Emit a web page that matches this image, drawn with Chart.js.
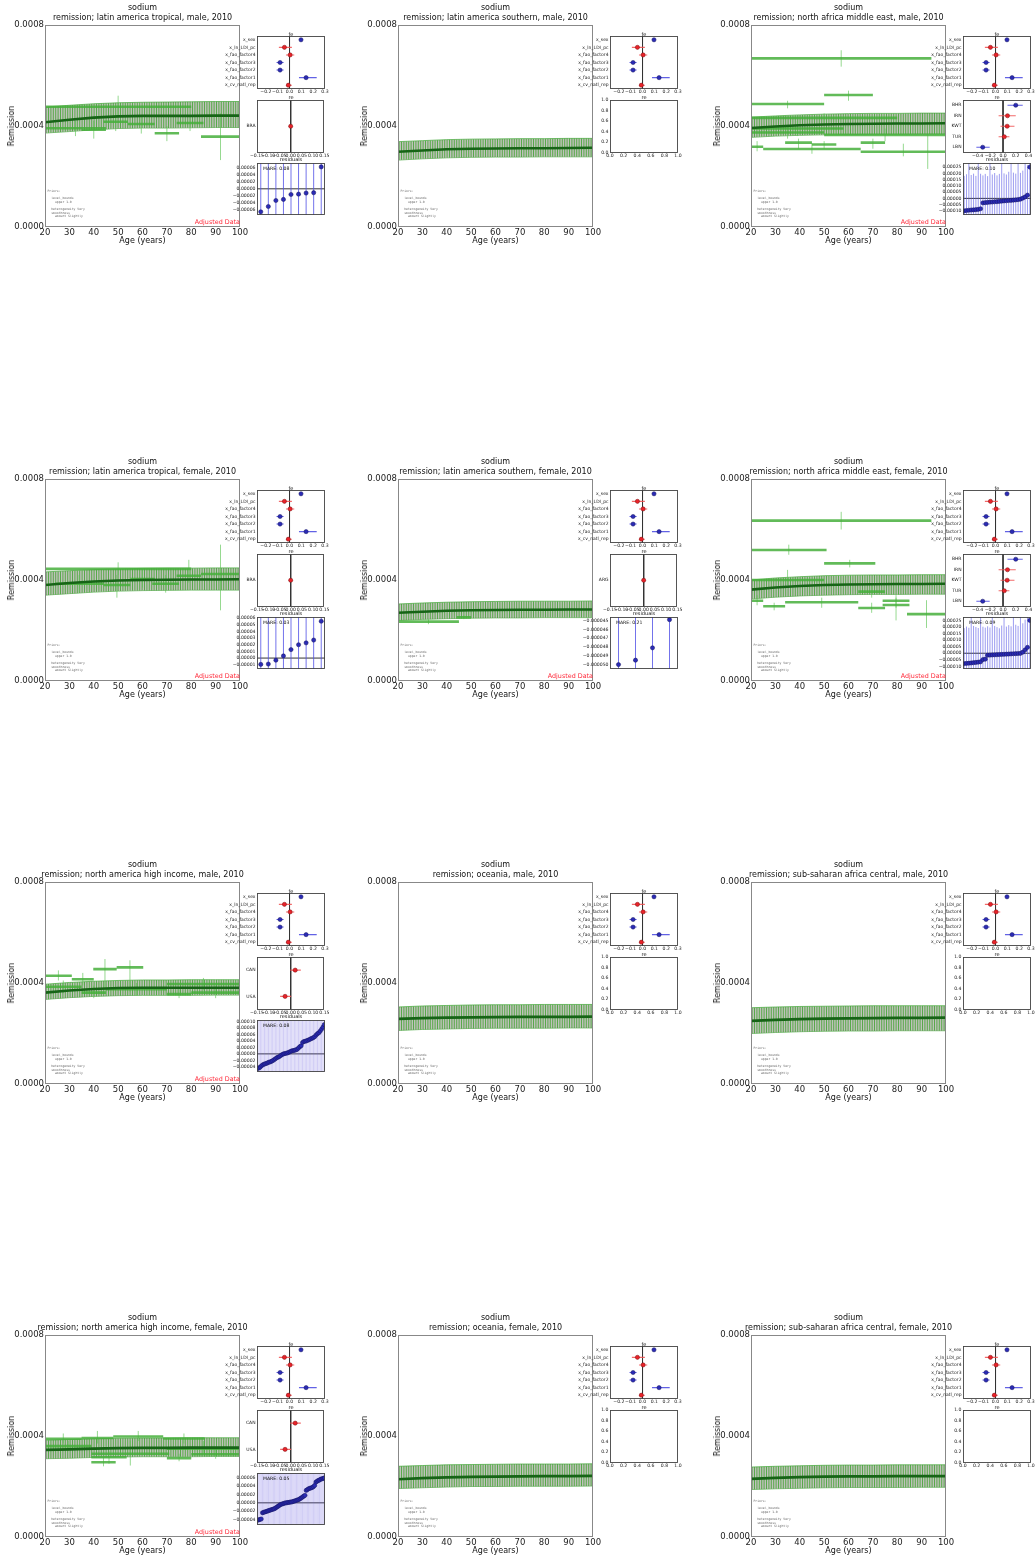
<!DOCTYPE html>
<html>
<head>
<meta charset="utf-8">
<title>sodium remission, 2010</title>
<script src="https://cdn.jsdelivr.net/npm/chart.js@4.4.0/dist/chart.umd.min.js"></script>
<style>
  body { margin: 0; background: #fff; }
  #fig { position: relative; width: 1035px; height: 1562px; overflow: hidden; background: #fff; }
  #fig canvas { position: absolute; }
  .t { position: absolute; white-space: nowrap; font-family: 'DejaVu Sans', sans-serif; color: #111; line-height: 1; }
  .priors { position: absolute; white-space: pre; font-family: 'DejaVu Sans Mono', monospace; font-size: 3.1px; color: #666; line-height: 3.6px; }
</style>
</head>
<body>
<div id="fig"></div>
<script>
// model curves are given at these ages
const ages = [20, 30, 40, 50, 60, 70, 80, 90, 100];
const ageTicks = [20, 30, 40, 50, 60, 70, 80, 90, 100];
const remTicks = [0, 0.0004, 0.0008];

// fixed effects (same in every region)
const feNames = ['x_sex', 'x_ln_LDI_pc', 'x_fao_factor4', 'x_fao_factor3', 'x_fao_factor2', 'x_fao_factor1', 'x_cv_natl_rep'];
const feMean = [0.097, -0.043, 0.005, -0.08, -0.08, 0.14, -0.01];
const feLo = [0.097, -0.09, -0.03, -0.11, -0.11, 0.08, -0.03];
const feHi = [0.097, 0.02, 0.04, -0.05, -0.05, 0.23, 0.02];
const feTicks = [-0.2, -0.1, 0, 0.1, 0.2, 0.3];

// random effects
const reBraNames = ['BRA'];
const reArgNames = ['ARG'];
const reZero = [0];
const reSmallTicks = [-0.15, -0.1, -0.05, 0, 0.05, 0.1, 0.15];
const reNameNames = ['BHR', 'IRN', 'KWT', 'TUR', 'LBN'];
const reNameMean = [0.2, 0.07, 0.065, 0.02, -0.32];
const reNameLo = [0.07, -0.07, -0.04, -0.07, -0.42];
const reNameHi = [0.31, 0.2, 0.18, 0.1, -0.21];
const reNameTicks = [-0.4, -0.2, 0, 0.2, 0.4];
const reNamNames = ['CAN', 'USA'];
const reNamMean = [0.02, -0.025];
const reNamLo = [-0.002, -0.047];
const reNamHi = [0.045, 0.002];
const unitTicks = [0, 0.2, 0.4, 0.6, 0.8, 1];

// posterior mean and bounds, one value per entry of ages
const latTropMaleMean = [0.000415, 0.000425, 0.000433, 0.000438, 0.00044, 0.00044, 0.00044, 0.000441, 0.000441];
const latTropMaleLow = [0.000372, 0.000378, 0.000385, 0.00039, 0.000392, 0.000392, 0.000393, 0.000394, 0.000394];
const latTropMaleHigh = [0.000475, 0.000482, 0.000488, 0.000492, 0.000494, 0.000495, 0.000496, 0.000497, 0.000497];
const latSouthMaleMean = [0.000298, 0.000303, 0.000308, 0.00031, 0.000311, 0.000312, 0.000312, 0.000313, 0.000314];
const latSouthMaleLow = [0.000265, 0.00027, 0.000274, 0.000276, 0.000277, 0.000277, 0.000278, 0.000278, 0.000278];
const latSouthMaleHigh = [0.000338, 0.000342, 0.000346, 0.000348, 0.000349, 0.00035, 0.00035, 0.000351, 0.000351];
const nameMaleMean = [0.000392, 0.000398, 0.000403, 0.000406, 0.000408, 0.000409, 0.00041, 0.00041, 0.000411];
const nameMaleLow = [0.000355, 0.00036, 0.000363, 0.000365, 0.000366, 0.000367, 0.000367, 0.000368, 0.000368];
const nameMaleHigh = [0.000435, 0.00044, 0.000444, 0.000447, 0.000449, 0.00045, 0.00045, 0.000451, 0.000451];
const latTropFemaleMean = [0.00038, 0.000388, 0.000394, 0.000398, 0.0004, 0.000401, 0.000402, 0.000402, 0.000403];
const latTropFemaleLow = [0.00034, 0.000346, 0.000352, 0.000356, 0.000358, 0.000359, 0.00036, 0.00036, 0.00036];
const latTropFemaleHigh = [0.000432, 0.000437, 0.000441, 0.000444, 0.000446, 0.000447, 0.000447, 0.000448, 0.000448];
const latSouthFemaleMean = [0.00027, 0.000274, 0.000278, 0.00028, 0.000281, 0.000282, 0.000282, 0.000283, 0.000283];
const latSouthFemaleLow = [0.00024, 0.000244, 0.000247, 0.000249, 0.00025, 0.00025, 0.000251, 0.000251, 0.000251];
const latSouthFemaleHigh = [0.000305, 0.000309, 0.000312, 0.000314, 0.000315, 0.000316, 0.000316, 0.000316, 0.000317];
const nameFemaleMean = [0.000362, 0.00037, 0.000376, 0.00038, 0.000382, 0.000383, 0.000384, 0.000384, 0.000385];
const nameFemaleLow = [0.000325, 0.000332, 0.000337, 0.00034, 0.000342, 0.000343, 0.000343, 0.000344, 0.000344];
const nameFemaleHigh = [0.0004, 0.000408, 0.000413, 0.000417, 0.000419, 0.00042, 0.00042, 0.000421, 0.000421];
const namMaleMean = [0.000362, 0.00037, 0.000376, 0.00038, 0.000381, 0.000381, 0.000381, 0.000381, 0.000381];
const namMaleLow = [0.000335, 0.000342, 0.000347, 0.00035, 0.000351, 0.000351, 0.000351, 0.000352, 0.000352];
const namMaleHigh = [0.000395, 0.000402, 0.000407, 0.00041, 0.000412, 0.000412, 0.000413, 0.000413, 0.000413];
const oceMaleMean = [0.000258, 0.000261, 0.000263, 0.000264, 0.000265, 0.000266, 0.000266, 0.000266, 0.000267];
const oceMaleLow = [0.000212, 0.000216, 0.000218, 0.00022, 0.000221, 0.000221, 0.000221, 0.000222, 0.000222];
const oceMaleHigh = [0.000305, 0.000309, 0.000311, 0.000313, 0.000314, 0.000314, 0.000315, 0.000315, 0.000315];
const ssaMaleMean = [0.00025, 0.000254, 0.000257, 0.000259, 0.00026, 0.000261, 0.000262, 0.000262, 0.000263];
const ssaMaleLow = [0.0002, 0.000204, 0.000207, 0.000209, 0.00021, 0.00021, 0.000211, 0.000211, 0.000211];
const ssaMaleHigh = [0.000302, 0.000305, 0.000307, 0.000308, 0.000309, 0.00031, 0.00031, 0.00031, 0.00031];
const namFemaleMean = [0.000345, 0.000347, 0.00035, 0.000352, 0.000353, 0.000353, 0.000354, 0.000354, 0.000354];
const namFemaleLow = [0.00031, 0.000312, 0.000315, 0.000317, 0.000318, 0.000318, 0.000318, 0.000319, 0.000319];
const namFemaleHigh = [0.000383, 0.000386, 0.000389, 0.000391, 0.000392, 0.000392, 0.000393, 0.000393, 0.000393];
const oceFemaleMean = [0.000229, 0.000233, 0.000236, 0.000238, 0.000239, 0.00024, 0.000241, 0.000241, 0.000242];
const oceFemaleLow = [0.000192, 0.000195, 0.000198, 0.0002, 0.0002, 0.000201, 0.000201, 0.000201, 0.000202];
const oceFemaleHigh = [0.00028, 0.000283, 0.000286, 0.000287, 0.000288, 0.000289, 0.000289, 0.000289, 0.00029];
const ssaFemaleMean = [0.00023, 0.000234, 0.000237, 0.000239, 0.00024, 0.00024, 0.000241, 0.000241, 0.000241];
const ssaFemaleLow = [0.000188, 0.000191, 0.000193, 0.000195, 0.000196, 0.000196, 0.000196, 0.000197, 0.000197];
const ssaFemaleHigh = [0.000277, 0.00028, 0.000282, 0.000284, 0.000285, 0.000285, 0.000286, 0.000286, 0.000286];

// uncertainty at age 20: [low, high]
const latTropMaleEdge = [0.00038, 0.00065];
const latSouthMaleEdge = [0.00027, 0.00045];
const nameMaleEdge = [0.00036, 0.00052];
const latTropFemaleEdge = [0.00034, 0.00062];
const latSouthFemaleEdge = [0.00024, 0.00041];
const nameFemaleEdge = [0.00033, 0.00046];
const namMaleEdge = [0.00034, 0.00056];
const oceMaleEdge = [0.0002, 0.00034];
const ssaMaleEdge = [0.0002, 0.00036];
const namFemaleEdge = [0.00031, 0.00052];
const oceFemaleEdge = [0.00019, 0.0003];
const ssaFemaleEdge = [0.00019, 0.00031];

// adjusted data rows: [age start, age end, value, lower, upper]
const latTropMaleRows = [
  [20, 80, 0.000476, 0.00043, 0.00052], [20, 45, 0.000391, 0.00036, 0.00042],
  [35, 45, 0.000385, 0.00035, 0.00042], [44, 54, 0.000417, 0.00038, 0.00045],
  [54, 65, 0.000408, 0.00037, 0.00044], [65, 75, 0.000371, 0.00034, 0.0004],
  [74, 85, 0.000412, 0.00038, 0.00044], [84, 100, 0.000358, 0.000265, 0.00045]
];
const nameMaleRows = [
  [20, 94, 0.000668, 0.000635, 0.0007], [20, 50, 0.000487, 0.00047, 0.0005],
  [50, 70, 0.000523, 0.0005, 0.00054], [20, 80, 0.000432, 0.00041, 0.00045],
  [20, 58, 0.00039, 0.00036, 0.00042], [20, 50, 0.000374, 0.00035, 0.0004],
  [50, 100, 0.000365, 0.00034, 0.00039], [20, 25, 0.000318, 0.0003, 0.00034],
  [25, 65, 0.000309, 0.00029, 0.00033], [34, 45, 0.000334, 0.00031, 0.00035],
  [45, 55, 0.000327, 0.00031, 0.00034], [65, 75, 0.000334, 0.00031, 0.00035],
  [65, 100, 0.000298, 0.00028, 0.00033], [85, 100, 0.000298, 0.00023, 0.00037]
];
const latTropFemaleRows = [
  [20, 80, 0.000444, 0.00042, 0.00047], [24, 44, 0.000385, 0.00035, 0.00042],
  [44, 55, 0.00038, 0.00033, 0.00042], [55, 65, 0.000404, 0.00037, 0.00044],
  [64, 75, 0.000385, 0.00035, 0.00042], [74, 84, 0.000417, 0.00039, 0.00048],
  [84, 100, 0.000424, 0.00028, 0.00054]
];
const latSouthFemaleRows = [
  [20, 45, 0.000235, 0.000225, 0.000245], [44, 50, 0.000252, 0.000245, 0.00026]
];
const nameFemaleRows = [
  [20, 94, 0.000635, 0.0006, 0.00067], [20, 51, 0.000519, 0.0005, 0.00054],
  [50, 71, 0.000466, 0.00045, 0.00048], [20, 50, 0.0004, 0.00038, 0.00044],
  [64, 75, 0.000354, 0.00033, 0.00038], [20, 25, 0.000318, 0.0003, 0.00034],
  [34, 64, 0.000312, 0.00029, 0.00033], [25, 34, 0.000296, 0.00028, 0.00031],
  [64, 75, 0.000289, 0.00027, 0.00031], [74, 85, 0.000318, 0.00029, 0.00034],
  [74, 85, 0.000301, 0.00024, 0.00033], [84, 100, 0.000265, 0.00021, 0.00032]
];
const namMaleRows = [
  [20, 31, 0.000429, 0.00041, 0.00045], [31, 40, 0.000415, 0.00039, 0.00044],
  [39.8, 49.4, 0.000455, 0.00037, 0.000495], [49.4, 60.3, 0.000462, 0.000366, 0.00049],
  [35, 45, 0.000362, 0.00034, 0.00039], [45, 70, 0.000375, 0.00035, 0.0004],
  [70, 80, 0.000356, 0.00034, 0.00038], [80, 100, 0.000362, 0.00034, 0.00039],
  [70, 100, 0.000396, 0.00037, 0.00042], [20, 35, 0.000385, 0.00036, 0.00041]
];
const namFemaleRows = [
  [20, 35, 0.000389, 0.00037, 0.00041], [35, 48, 0.000392, 0.00037, 0.00042],
  [48, 68.5, 0.000398, 0.00038, 0.00042], [68.5, 85.5, 0.00039, 0.00037, 0.00041],
  [20, 39, 0.00036, 0.00034, 0.00038], [39, 53.5, 0.000316, 0.00029, 0.00034],
  [39, 49, 0.000296, 0.00028, 0.00032], [39, 71, 0.00033, 0.000283, 0.000382],
  [70, 80, 0.000312, 0.0003, 0.00033], [70, 100, 0.00035, 0.00033, 0.00038],
  [80, 100, 0.000328, 0.00031, 0.00035]
];

// residuals, sorted
const latTropMaleRes = [-6.5e-5, -5.0e-5, -3.3e-5, -3.0e-5, -1.6e-5, -1.5e-5, -1.2e-5, -1.1e-5, 6.2e-5];
const latTropFemaleRes = [-9.5e-6, -9.0e-6, -3.2e-6, 3.2e-6, 1.27e-5, 2.0e-5, 2.28e-5, 2.7e-5, 5.52e-5];
const latSouthFemaleRes = [-5.0e-5, -4.95e-5, -4.81e-5, -4.49e-5];
const nameMaleRes = [-1.0e-4, -9.7e-5, -9.5e-5, -9.3e-5, -9.2e-5, -9.0e-5, -8.8e-5, -8.3e-5, -3.6e-5, -3.4e-5,
  -3.2e-5, -3.0e-5, -2.9e-5, -2.7e-5, -2.6e-5, -2.4e-5, -2.2e-5, -2.0e-5, -1.9e-5, -1.7e-5,
  -1.6e-5, -1.4e-5, -1.2e-5, -1.0e-5, -6.0e-6, 2.0e-6, 1.2e-5, 2.6e-5, 2.5e-4];
const nameMaleResErr = [2.8e-4, 2.9e-4, 4e-4, 2.8e-4, 2.9e-4, 2.7e-4, 4e-4, 2.8e-4, 2.2e-4, 2.3e-4,
  2.1e-4, 4e-4, 2.2e-4, 2.3e-4, 2.1e-4, 2.2e-4, 4e-4, 2.2e-4, 2.1e-4, 2.3e-4,
  4e-4, 2.2e-4, 2.1e-4, 4e-4, 2.1e-4, 2.2e-4, 4e-4, 2.4e-4, 4e-4];
const nameFemaleRes = [-7.9e-5, -7.7e-5, -7.6e-5, -7.4e-5, -7.2e-5, -7.0e-5, -6.8e-5, -6.5e-5, -4.8e-5, -4.5e-5,
  -1.5e-5, -1.4e-5, -1.3e-5, -1.2e-5, -1.1e-5, -1.0e-5, -9e-6, -8e-6, -7e-6, -6e-6,
  -5e-6, -4e-6, -3e-6, -2e-6, -1e-6, 8e-6, 2.6e-5, 4.5e-5, 2.5e-4];
const nameFemaleResErr = [2.7e-4, 2.8e-4, 2.7e-4, 4e-4, 2.8e-4, 2.7e-4, 2.6e-4, 4e-4, 2.5e-4, 2.4e-4,
  2.2e-4, 2.1e-4, 4e-4, 2.2e-4, 2.1e-4, 2.0e-4, 2.2e-4, 4e-4, 2.1e-4, 2.2e-4,
  2.1e-4, 4e-4, 2.2e-4, 2.1e-4, 4e-4, 2.2e-4, 2.3e-4, 4e-4, 4e-4];
const namMaleRes = [-4.5e-5, -4.3e-5, -4.0e-5, -3.6e-5, -3.3e-5, -3.1e-5, -3.0e-5, -2.8e-5, -2.6e-5, -2.5e-5,
  -2.3e-5, -2.1e-5, -1.8e-5, -1.5e-5, -1.2e-5, -1.0e-5, -8e-6, -5e-6, -2e-6, 0,
  1e-6, 2e-6, 3e-6, 5e-6, 7e-6, 9e-6, 1.0e-5, 1.1e-5, 1.2e-5, 1.4e-5,
  1.8e-5, 2.2e-5, 2.5e-5, 3.5e-5, 3.8e-5, 3.9e-5, 4.0e-5, 4.2e-5, 4.4e-5, 4.6e-5,
  4.8e-5, 5.0e-5, 5.3e-5, 5.8e-5, 6.2e-5, 6.5e-5, 7.0e-5, 7.6e-5, 8.2e-5, 9.0e-5];
const namFemaleRes = [-4.2e-5, -4.1e-5, -4.0e-5, -3.9e-5, -2.4e-5, -2.3e-5, -2.2e-5, -2.1e-5, -2.0e-5, -1.9e-5,
  -1.8e-5, -1.7e-5, -1.6e-5, -1.5e-5, -1.4e-5, -1.2e-5, -1.0e-5, -8e-6, -6e-6, -4e-6,
  -3e-6, -2e-6, -1e-6, 0, 0, 1e-6, 1e-6, 2e-6, 2e-6, 3e-6,
  4e-6, 5e-6, 6e-6, 7e-6, 8e-6, 1.0e-5, 1.2e-5, 1.4e-5, 1.6e-5, 1.8e-5,
  3.0e-5, 3.2e-5, 3.4e-5, 3.5e-5, 3.6e-5, 3.7e-5, 3.9e-5, 4.2e-5, 5.0e-5, 5.2e-5,
  5.4e-5, 5.5e-5, 5.7e-5, 5.8e-5, 5.9e-5, 6.0e-5];
const resTicksTropMale = [-6e-5, -4e-5, -2e-5, 0, 2e-5, 4e-5, 6e-5];
const resTicksTropFemale = [-1e-5, 0, 1e-5, 2e-5, 3e-5, 4e-5, 5e-5, 6e-5];
const resTicksSouthFemale = [-5e-5, -4.9e-5, -4.8e-5, -4.7e-5, -4.6e-5, -4.5e-5];
const resTicksName = [-1e-4, -5e-5, 0, 5e-5, 1e-4, 1.5e-4, 2e-4, 2.5e-4];
const resTicksNamMale = [-4e-5, -2e-5, 0, 2e-5, 4e-5, 6e-5, 8e-5, 1e-4];
const resTicksNamFemale = [-4e-5, -2e-5, 0, 2e-5, 4e-5, 6e-5];

Chart.defaults.font.family = "'DejaVu Sans', sans-serif";
Chart.defaults.color = '#111';
Chart.defaults.animation = false;
Chart.defaults.responsive = false;
Chart.defaults.devicePixelRatio = 1;
Chart.defaults.plugins.legend.display = false;
Chart.defaults.plugins.tooltip.enabled = false;

const fig = document.getElementById('fig');
const rowY = [0, 454, 857, 1310];
const colX = [0, 353, 706];

// box around each axes
const frame = {
  id: 'frame',
  afterDatasetsDraw(chart, args, opts) {
    const a = chart.chartArea, ctx = chart.ctx;
    ctx.save();
    ctx.strokeStyle = opts.color || '#333';
    ctx.lineWidth = opts.width || 1;
    ctx.strokeRect(Math.round(a.left) + 0.5, Math.round(a.top) + 0.5,
      Math.round(a.right - a.left) - 1, Math.round(a.bottom - a.top) - 1);
    ctx.restore();
  }
};

function fmt(v, d) {
  const s = Math.abs(v).toFixed(d);
  return (v < 0 && Number(s) !== 0 ? '\u2212' : '') + s;
}

function text(str, x, y, size, css) {
  const d = document.createElement('div');
  d.className = 't';
  d.textContent = str;
  d.style.left = x + 'px';
  d.style.top = y + 'px';
  d.style.fontSize = size + 'px';
  if (css) Object.assign(d.style, css);
  fig.appendChild(d);
  return d;
}
const centered = { transform: 'translate(-50%, -50%)' };

function canvas(x, y, w, h) {
  const c = document.createElement('canvas');
  c.width = w;
  c.height = h;
  c.style.left = x + 'px';
  c.style.top = y + 'px';
  fig.appendChild(c);
  return c;
}

// vertical hatching used for the uncertainty band
function makeHatch() {
  const pc = document.createElement('canvas');
  pc.width = 12;
  pc.height = 4;
  const g = pc.getContext('2d');
  g.fillStyle = 'rgba(165,170,160,0.7)';
  g.fillRect(0, 0, 12, 4);
  g.fillStyle = 'rgba(70,165,55,0.85)';
  for (let i = 0; i < 5; i++) g.fillRect(i * 2.4, 0, 1, 4);
  return g.createPattern(pc, 'repeat');
}
const bandFill = makeHatch();

// one horizontal segment per data row, broken by null points
function rowLines(rows) {
  const pts = [];
  rows.forEach(r => pts.push({x: r[0], y: r[2]}, {x: r[1], y: r[2]}, {x: r[1], y: null}));
  return pts;
}
function rowBars(rows) {
  const pts = [];
  rows.forEach(r => {
    const m = (r[0] + r[1]) / 2;
    pts.push({x: m, y: r[3]}, {x: m, y: r[4]}, {x: m, y: null});
  });
  return pts;
}

const noGrid = { display: false, drawTicks: false };
const noBorder = { display: false };
const fixedTicks = list => axis => { axis.ticks = list.map(v => ({value: v})); };

function mainChart(p, ox, oy) {
  const cv = canvas(ox, oy, 250, 250);
  const curve = vals => ages.map((a, i) => ({x: a, y: vals[i]}));
  const ds = [{ data: curve(p.mean), borderColor: 'rgb(22,100,22)', borderWidth: 2.6 }];
  if (p.rows) {
    ds.push({ data: rowLines(p.rows), borderColor: 'rgba(70,175,60,0.85)', borderWidth: 2.6 });
    ds.push({ data: rowBars(p.rows), borderColor: 'rgba(90,195,80,0.8)', borderWidth: 0.8 });
  }
  ds.push({ data: [{x: 20, y: p.edge[0]}, {x: 20, y: p.edge[1]}], borderColor: 'rgba(80,185,70,0.9)', borderWidth: 1.4 });
  ds.push({ data: curve(p.high), borderColor: 'rgba(70,170,60,0.9)', borderWidth: 0.8, fill: '+1', backgroundColor: bandFill });
  ds.push({ data: curve(p.low), borderColor: 'rgba(70,170,60,0.9)', borderWidth: 0.8 });

  new Chart(cv, {
    type: 'line',
    data: { datasets: ds },
    options: {
      layout: { padding: { top: 25, right: 10, left: 0, bottom: 0 } },
      elements: { point: { radius: 0 }, line: { tension: 0 } },
      scales: {
        x: {
          type: 'linear', min: 20, max: 100,
          afterFit: s => { s.height = 23; },
          afterBuildTicks: fixedTicks(ageTicks),
          ticks: { font: { size: 8.5 }, color: '#222', padding: 1, maxRotation: 0, autoSkip: false },
          grid: noGrid, border: noBorder
        },
        y: {
          type: 'linear', min: 0, max: 0.0008,
          afterFit: s => { s.width = 45; },
          afterBuildTicks: fixedTicks(remTicks),
          ticks: { font: { size: 8.5 }, color: '#222', padding: 1, autoSkip: false, callback: v => v.toFixed(4) },
          grid: noGrid, border: noBorder
        }
      },
      plugins: { frame: { color: '#888', width: 1 } }
    },
    plugins: [frame]
  });
}

function sideOptions(padTop, padBottom, xs, ys) {
  return {
    layout: { padding: { top: padTop, right: 5, left: 0, bottom: padBottom } },
    elements: { point: { radius: 0 }, line: { tension: 0 } },
    scales: { x: xs, y: ys },
    plugins: { frame: { color: '#444', width: 0.9 } }
  };
}

function xAxis(min, max, ticks, dec, height) {
  return {
    type: 'linear', min, max,
    afterFit: s => { s.height = height; },
    afterBuildTicks: fixedTicks(ticks),
    ticks: { font: { size: 4.6 }, color: '#222', padding: 0.5, maxRotation: 0, minRotation: 0, autoSkip: false,
      callback: v => fmt(v, dec) },
    grid: noGrid, border: noBorder
  };
}

// fe / re dot-and-whisker panel
function effectChart(x, y, padTop, axisH, e) {
  const cv = canvas(x, y, 135, 70);
  const n = e.names.length;
  const sig = e.mean.map((m, i) => e.lo[i] > 0 || e.hi[i] < 0);
  const bars = flag => {
    const pts = [];
    e.mean.forEach((m, i) => {
      if (sig[i] === flag) pts.push({x: e.lo[i], y: i}, {x: e.hi[i], y: i}, {x: e.hi[i], y: null});
    });
    return pts;
  };
  new Chart(cv, {
    type: 'line',
    data: { datasets: [
      { data: e.mean.map((m, i) => ({x: m, y: i})), showLine: false, pointRadius: 2.1, pointBorderWidth: 0.5,
        pointBackgroundColor: sig.map(s => s ? '#2b2bb5' : '#e8232a'),
        pointBorderColor: sig.map(s => s ? '#15155e' : '#7a1010') },
      { data: bars(true), borderColor: 'rgba(70,70,225,0.85)', borderWidth: 1.1 },
      { data: bars(false), borderColor: 'rgba(240,80,80,0.85)', borderWidth: 1.1 },
      { data: [{x: 0, y: -0.5}, {x: 0, y: n - 0.5}], borderColor: '#333', borderWidth: 1 }
    ]},
    options: sideOptions(padTop, 0,
      xAxis(e.min, e.max, e.ticks, e.dec, axisH),
      {
        type: 'linear', min: -0.5, max: n - 0.5, reverse: true,
        afterFit: s => { s.width = 62; },
        afterBuildTicks: fixedTicks(e.names.map((nm, i) => i)),
        ticks: { font: { size: 4.5 }, color: '#222', padding: 1.5, autoSkip: false, callback: v => e.names[v] },
        grid: noGrid, border: noBorder
      }),
    plugins: [frame]
  });
}

// empty re panel for regions without country effects
function emptyChart(x, y) {
  const cv = canvas(x, y, 135, 70);
  new Chart(cv, {
    type: 'line',
    data: { datasets: [] },
    options: sideOptions(5, 0,
      xAxis(0, 1, unitTicks, 1, 12.5),
      {
        type: 'linear', min: 0, max: 1,
        afterFit: s => { s.width = 62; },
        afterBuildTicks: fixedTicks(unitTicks),
        ticks: { font: { size: 4.6 }, color: '#222', padding: 1.5, autoSkip: false, callback: v => v.toFixed(1) },
        grid: noGrid, border: noBorder
      }),
    plugins: [frame]
  });
}

function residualChart(x, y, r) {
  const cv = canvas(x, y, 135, 70);
  const n = r.values.length;
  const errAt = i => Array.isArray(r.err) ? r.err[i] : r.err;
  const bars = [];
  r.values.forEach((v, i) => bars.push({x: i, y: v - errAt(i)}, {x: i, y: v + errAt(i)}, {x: i, y: null}));
  new Chart(cv, {
    type: 'line',
    data: { datasets: [
      { data: r.values.map((v, i) => ({x: i, y: v})), showLine: false, pointRadius: 2.1, pointBorderWidth: 0.5,
        pointBackgroundColor: '#2b2bb5', pointBorderColor: '#15155e' },
      { data: bars, borderColor: r.lineColor, borderWidth: 1 },
      { data: [{x: -0.5, y: 0}, {x: n - 0.5, y: 0}], borderColor: '#333', borderWidth: 1 }
    ]},
    options: sideOptions(5, 13,
      { type: 'linear', min: -0.5, max: n - 0.5, display: false },
      {
        type: 'linear', min: r.min, max: r.max,
        afterFit: s => { s.width = 62; },
        afterBuildTicks: fixedTicks(r.ticks),
        ticks: { font: { size: 4.6 }, color: '#222', padding: 1.5, autoSkip: false, callback: v => fmt(v, r.dec) },
        grid: noGrid, border: noBorder
      }),
    plugins: [frame]
  });
}

const fe = { names: feNames, mean: feMean, lo: feLo, hi: feHi, min: -0.275, max: 0.3, ticks: feTicks, dec: 1 };
const reBra = { names: reBraNames, mean: reZero, lo: reZero, hi: reZero, min: -0.15, max: 0.15, ticks: reSmallTicks, dec: 2 };
const reArg = { names: reArgNames, mean: reZero, lo: reZero, hi: reZero, min: -0.15, max: 0.15, ticks: reSmallTicks, dec: 2 };
const reName = { names: reNameNames, mean: reNameMean, lo: reNameLo, hi: reNameHi, min: -0.63, max: 0.44, ticks: reNameTicks, dec: 1 };
const reNam = { names: reNamNames, mean: reNamMean, lo: reNamLo, hi: reNamHi, min: -0.15, max: 0.15, ticks: reSmallTicks, dec: 2 };

const solidBlue = 'rgba(80,80,230,0.8)';
const denseBlue = 'rgba(110,95,225,0.32)';
const panels = [
  { title: 'remission; latin america tropical, male, 2010', mean: latTropMaleMean, low: latTropMaleLow, high: latTropMaleHigh,
    edge: latTropMaleEdge, rows: latTropMaleRows, re: reBra,
    res: { values: latTropMaleRes, err: 1e-3, min: -7.4e-5, max: 7.3e-5, ticks: resTicksTropMale, dec: 5, mare: '0.08', lineColor: solidBlue } },
  { title: 'remission; latin america southern, male, 2010', mean: latSouthMaleMean, low: latSouthMaleLow, high: latSouthMaleHigh,
    edge: latSouthMaleEdge },
  { title: 'remission; north africa middle east, male, 2010', mean: nameMaleMean, low: nameMaleLow, high: nameMaleHigh,
    edge: nameMaleEdge, rows: nameMaleRows, re: reName,
    res: { values: nameMaleRes, err: nameMaleResErr, min: -1.33e-4, max: 2.83e-4, ticks: resTicksName, dec: 5, mare: '0.10', lineColor: 'rgba(90,90,230,0.6)' } },
  { title: 'remission; latin america tropical, female, 2010', mean: latTropFemaleMean, low: latTropFemaleLow, high: latTropFemaleHigh,
    edge: latTropFemaleEdge, rows: latTropFemaleRows, re: reBra,
    res: { values: latTropFemaleRes, err: 1e-3, min: -1.64e-5, max: 6.16e-5, ticks: resTicksTropFemale, dec: 5, mare: '0.03', lineColor: solidBlue } },
  { title: 'remission; latin america southern, female, 2010', mean: latSouthFemaleMean, low: latSouthFemaleLow, high: latSouthFemaleHigh,
    edge: latSouthFemaleEdge, rows: latSouthFemaleRows, re: reArg,
    res: { values: latSouthFemaleRes, err: 1e-3, min: -5.05e-5, max: -4.46e-5, ticks: resTicksSouthFemale, dec: 6, mare: '0.21', lineColor: solidBlue } },
  { title: 'remission; north africa middle east, female, 2010', mean: nameFemaleMean, low: nameFemaleLow, high: nameFemaleHigh,
    edge: nameFemaleEdge, rows: nameFemaleRows, re: reName,
    res: { values: nameFemaleRes, err: nameFemaleResErr, min: -1.2e-4, max: 2.76e-4, ticks: resTicksName, dec: 5, mare: '0.09', lineColor: 'rgba(90,90,230,0.6)' } },
  { title: 'remission; north america high income, male, 2010', mean: namMaleMean, low: namMaleLow, high: namMaleHigh,
    edge: namMaleEdge, rows: namMaleRows, re: reNam,
    res: { values: namMaleRes, err: 1e-3, min: -5.56e-5, max: 1.04e-4, ticks: resTicksNamMale, dec: 5, mare: '0.08', lineColor: denseBlue } },
  { title: 'remission; oceania, male, 2010', mean: oceMaleMean, low: oceMaleLow, high: oceMaleHigh, edge: oceMaleEdge },
  { title: 'remission; sub-saharan africa central, male, 2010', mean: ssaMaleMean, low: ssaMaleLow, high: ssaMaleHigh, edge: ssaMaleEdge },
  { title: 'remission; north america high income, female, 2010', mean: namFemaleMean, low: namFemaleLow, high: namFemaleHigh,
    edge: namFemaleEdge, rows: namFemaleRows, re: reNam,
    res: { values: namFemaleRes, err: 1e-3, min: -5.35e-5, max: 7.2e-5, ticks: resTicksNamFemale, dec: 5, mare: '0.05', lineColor: denseBlue } },
  { title: 'remission; oceania, female, 2010', mean: oceFemaleMean, low: oceFemaleLow, high: oceFemaleHigh, edge: oceFemaleEdge },
  { title: 'remission; sub-saharan africa central, female, 2010', mean: ssaFemaleMean, low: ssaFemaleLow, high: ssaFemaleHigh, edge: ssaFemaleEdge }
];

const priorsText = 'Priors:\n\n  level_bounds\n    upper 1.0\n\n  heterogeneity Very\n  smoothness\n    amount Slightly';

panels.forEach((p, i) => {
  const ox = colX[i % 3], oy = rowY[Math.floor(i / 3)];

  mainChart(p, ox, oy);
  text('sodium', ox + 142.5, oy + 8, 8, centered);
  text(p.title, ox + 142.5, oy + 17.5, 8, centered);
  text('Remission', ox + 12, oy + 126, 8, { transform: 'translate(-50%, -50%) rotate(-90deg)' });
  text('Age (years)', ox + 142.5, oy + 241, 8, centered);
  const pr = document.createElement('div');
  pr.className = 'priors';
  pr.textContent = priorsText;
  pr.style.left = (ox + 47.5) + 'px';
  pr.style.top = (oy + 190) + 'px';
  fig.appendChild(pr);
  if (p.rows) text('Adjusted Data', ox + 240, oy + 222, 6.4, { transform: 'translate(-100%, -50%)', color: '#ff2a3a' });

  effectChart(ox + 195, oy + 30, 6, 11, fe);
  text('fe', ox + 291, oy + 33.5, 5, centered);
  text('re', ox + 291, oy + 96.5, 5, centered);
  if (p.re) {
    effectChart(ox + 195, oy + 95, 5, 12.5, p.re);
  } else {
    emptyChart(ox + 195, oy + 95);
  }
  if (p.res) {
    residualChart(ox + 195, oy + 158, p.res);
    text('residuals', ox + 291, oy + 158.5, 5, centered);
    text('MARE: ' + p.res.mare, ox + 263, oy + 168.5, 4.6, { transform: 'translateY(-50%)' });
  }
});
</script>
</body>
</html>
